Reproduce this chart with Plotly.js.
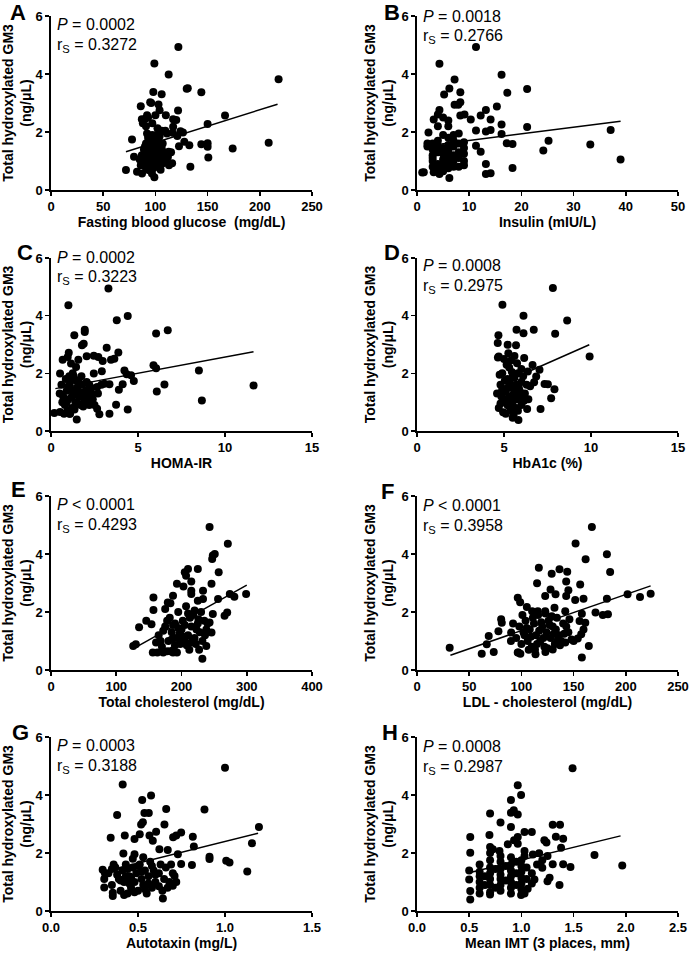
<!DOCTYPE html>
<html><head><meta charset="utf-8">
<script src="https://cdn.plot.ly/plotly-3.0.1.min.js"></script>
<style>html,body{margin:0;padding:0;background:#fff}#chart{width:689px;height:953px}</style>
</head><body><div id="chart"></div>
<script>
// ---- DATA ----
const xTitles = ['Fasting blood glucose  (mg/dL)','Insulin (mIU/L)','HOMA-IR','HbA1c (%)','Total cholesterol (mg/dL)','LDL - cholesterol (mg/dL)','Autotaxin (mg/L)','Mean IMT (3 places, mm)'];
const panelLetters = ['A','B','C','D','E','F','G','H'];
const pTexts = ['= 0.0002','= 0.0018','= 0.0002','= 0.0008','< 0.0001','< 0.0001','= 0.0003','= 0.0008'];
const rTexts = ['0.3272','0.2766','0.3223','0.2975','0.4293','0.3958','0.3188','0.2987'];
const yTitle = 'Total hydroxylated GM3<br>(ng/μL)';

const ptsA = [[71.8,0.69],[77.6,1.74],[122,4.93],[99,4.36],[112.7,3.98],[218,3.82],[131,3.51],[130,3.49],[144,3.37],[98,3.38],[106,3.30],[95,3.03],[96,3.0],[103,2.95],[86,2.89],[121.7,2.74],[166.7,2.57],[92,2.58],[100,2.58],[110,2.58],[104,2.75],[87,2.44],[117,2.44],[120,2.41],[150,2.28],[91,2.2],[117,2.18],[102,2.13],[109.5,2.04],[92,1.95],[124,2.03],[126.4,1.98],[106,2.04],[111,1.95],[121,1.86],[116.5,1.97],[208.5,1.63],[174,1.43],[144,1.58],[150,1.61],[150,1.49],[132.5,1.54],[122.6,1.51],[127.7,1.66],[150.7,1.12],[133.5,0.80],[116,0.92],[109,1.24],[112.7,1.32],[79.5,1.15],[82.4,0.63],[87.2,0.57],[93.5,0.69],[99,0.44],[96.7,0.57],
[88,1.0],[90,1.1],[92,0.9],[94,1.2],[95,1.4],[96,1.6],[97,1.0],[98,1.3],[99,1.5],[100,1.7],[101,1.2],[102,0.8],[103,1.0],[104,1.4],[105,1.1],[106,0.9],[107,1.6],[108,1.3],[89,1.4],[91,1.6],[93,1.8],[95,0.8],[97,1.9],[99,1.1],[100,0.9],[101,1.5],[103,1.7],[94,0.7],[96,1.3],[98,0.75],[87,1.2],[86,0.85],[90,1.5],[92,1.3],[95,1.1],[100,1.35],[102,1.55],[104,1.85],[106,1.45],[108,0.95],[110,1.05],[112,1.15],[97,2.3],[93,2.5],[90,2.45],[88,2.3],[113,0.85],[115,1.3],[85,1.05],[91,0.75],[98,1.75],[105,0.7],[94,1.5],[101,1.9],[107,1.15]];
const fitA = [[71.8,1.32],[217,2.96]];

const ptsB = [[1.3,0.61],[2.2,1.98],[3.2,2.43],[4.3,4.35],[4.3,2.76],[5.2,3.29],[6.2,3.50],[7.2,3.81],[8.3,3.37],[8.3,3.03],[7.9,2.94],[7.2,2.94],[8.3,2.57],[9.1,2.60],[10.3,2.43],[11.3,4.93],[16.2,3.97],[17.3,3.35],[21.1,3.48],[15.3,2.88],[13.2,2.76],[12.2,2.57],[14.1,2.43],[13.2,2.02],[11.3,2.05],[14.1,2.07],[16.2,2.26],[21.1,2.17],[16.2,1.93],[17.2,1.61],[18.3,1.59],[25.2,1.70],[33.2,1.57],[37.1,2.07],[39.0,1.05],[24.2,1.36],[18.3,0.76],[13.2,0.55],[14.1,0.58],[13.2,0.90],[12.2,1.32],[11.3,1.53],[6.2,0.41],[4.3,0.55],[3.2,0.61],
[3,0.8],[3,1.0],[3,1.2],[3,1.4],[3,1.6],[3,1.1],[4,0.7],[4,0.9],[4,1.3],[4,1.5],[4,1.7],[4,2.2],[4,2.6],[5,0.65],[5,0.85],[5,1.05],[5,1.25],[5,1.45],[5,1.9],[5,2.5],[6,0.75],[6,0.95],[6,1.15],[6,1.35],[6,1.55],[6,1.8],[6,2.2],[6,2.4],[7,0.8],[7,1.0],[7,1.2],[7,1.5],[7,1.7],[7,1.9],[8,0.8],[8,1.1],[8,1.3],[8,1.6],[8,1.95],[9,0.85],[9,1.0],[9,1.25],[9,1.45],[9,1.65],[2,1.5],[2,1.6],[1,0.6]];
const fitB = [[1.3,1.51],[39,2.37]];

const ptsC = [[0.19,0.62],[0.52,0.66],[1.0,4.36],[3.3,4.94],[3.78,3.84],[4.41,3.99],[1.34,3.32],[1.94,3.51],[1.94,3.43],[1.88,3.03],[1.78,2.97],[6.04,3.38],[6.71,3.49],[3.2,2.89],[3.87,2.72],[1.02,2.71],[0.67,2.47],[0.96,2.57],[1.57,2.47],[2.05,2.59],[2.46,2.61],[2.72,2.57],[2.97,2.43],[3.45,2.47],[3.64,2.51],[0.52,1.99],[1.44,2.22],[1.15,2.34],[2.46,1.99],[2.92,2.07],[4.22,2.10],[5.89,2.28],[6.04,2.18],[8.5,2.10],[4.35,1.97],[4.6,1.93],[4.76,1.73],[4.12,1.62],[3.07,1.64],[3.36,1.62],[3.9,1.43],[2.65,1.53],[6.52,1.61],[6.08,1.37],[11.64,1.58],[8.67,1.06],[3.74,0.91],[4.41,0.75],[3.36,0.60],[2.78,0.58],[2.65,0.77],[1.48,0.40],[1.06,0.60],
[0.6,1.6],[0.7,1.2],[0.8,0.9],[0.9,1.4],[1.0,1.1],[1.1,1.7],[1.2,0.8],[1.3,1.3],[1.4,1.0],[1.5,1.5],[1.6,1.2],[1.7,0.9],[1.8,1.6],[1.9,1.1],[2.0,1.4],[2.1,1.2],[2.2,0.9],[2.3,1.5],[2.4,1.1],[0.75,0.6],[0.85,1.8],[0.95,0.7],[1.05,1.9],[1.15,1.45],[1.25,2.0],[1.35,0.75],[1.45,1.75],[1.55,0.95],[1.65,1.35],[1.75,1.9],[1.85,0.85],[1.95,1.25],[2.05,1.7],[2.15,1.0],[2.35,1.3],[2.5,0.9],[0.65,1.0],[1.0,1.55],[1.2,1.2],[0.9,1.0],[1.6,1.7],[1.3,1.9],[2.2,1.6],[0.5,1.3],[1.1,0.6],[2.7,1.3],[2.9,1.6]];
const fitC = [[0.25,1.47],[11.64,2.75]];

const ptsD = [[7.81,4.96],[4.91,4.38],[6.12,4.0],[8.63,3.83],[5.72,3.51],[6.71,3.51],[6.12,3.39],[7.94,3.37],[4.68,3.32],[9.92,2.58],[4.64,3.05],[5.21,2.99],[5.69,2.97],[4.7,2.58],[6.16,2.53],[6.64,2.29],[7.04,2.12],[6.37,2.06],[6.85,1.89],[7.33,1.63],[7.52,1.62],[7.9,1.45],[7.71,1.14],[7.1,0.76],[6.33,0.76],[5.83,0.38],[5.5,0.46],[6.5,1.55],[6.73,1.69],
[4.6,1.3],[4.7,0.8],[4.8,1.6],[4.9,2.0],[5.0,1.1],[5.0,2.5],[5.1,0.6],[5.1,1.4],[5.2,1.8],[5.2,0.9],[5.3,1.2],[5.3,2.2],[5.4,0.7],[5.4,1.5],[5.5,1.0],[5.5,1.9],[5.6,1.3],[5.6,2.6],[5.7,0.8],[5.7,1.6],[5.8,1.1],[5.8,2.0],[5.9,1.4],[6.0,0.9],[6.0,1.7],[4.65,2.55],[4.75,1.95],[4.85,1.2],[4.95,0.65],[5.05,1.75],[5.15,2.3],[5.25,1.05],[5.35,1.65],[5.45,2.05],[5.55,0.55],[5.65,1.15],[5.75,2.35],[5.85,1.5],[5.95,1.25],[6.1,1.9],[6.2,1.3],[6.3,1.6],[6.4,1.1],[5.0,1.35],[5.2,1.5],[5.3,0.85],[5.5,1.25],[5.4,2.45],[5.6,1.85],[4.9,1.45],[5.1,1.0],[5.7,1.4],[6.0,2.15],[5.25,2.7],[5.8,0.7],[4.8,0.95],[6.15,1.05]];
const fitD = [[4.6,1.58],[9.9,2.99]];

const ptsE = [[243,4.93],[271,4.35],[248,3.95],[251,4.0],[247,3.83],[257,3.37],[210,3.48],[225,3.48],[205,3.37],[207,3.25],[246,2.97],[193,2.97],[215,3.05],[203,2.88],[233,2.73],[215,2.73],[274,2.62],[299,2.62],[281,2.53],[256,2.45],[233,2.45],[215,2.62],[187,2.56],[157,2.50],[157,2.07],[179,2.33],[225,2.39],[248,1.93],[270,1.98],[266,1.87],[146,1.70],[154,1.58],[135,1.47],[126,0.83],[130,0.89],[161,0.95],[156,0.60],[238,0.83],[232,0.39],[246,1.29],[243,1.64],[187,0.60],
[165,1.2],[170,0.8],[175,1.5],[180,1.0],[182,1.8],[185,1.3],[188,0.7],[190,1.6],[192,1.1],[195,2.0],[198,0.9],[200,1.4],[202,1.7],[205,1.0],[207,2.2],[210,1.2],[212,0.7],[215,1.5],[218,1.9],[220,1.1],[222,0.9],[225,1.6],[228,1.3],[230,2.0],[232,1.0],[235,1.7],[238,1.4],[168,1.0],[172,1.35],[178,0.65],[183,2.3],[187,1.55],[193,0.6],[197,1.25],[203,1.15],[208,0.85],[213,1.8],[217,1.05],[223,1.4],[227,0.7],[195,1.45],[185,1.05],[205,1.55],[190,0.85],[200,1.1],[178,1.7],[210,1.95],[175,2.1],[220,2.05],[240,1.6],[163,0.6],[172,0.6],[183,0.65],[215,0.95],[226,1.75],[236,1.2]];
const fitE = [[129,0.77],[300,2.93]];

const ptsF = [[31.3,0.77],[62,0.56],[66.8,0.89],[68.7,1.17],[73.5,0.62],[80.6,1.75],[81.2,1.63],[78,1.34],[90.2,1.29],[167.5,4.93],[151.9,4.36],[161.5,3.82],[181.9,3.99],[185,3.38],[116.7,3.53],[129,3.32],[136.5,3.47],[143.9,3.39],[115,2.99],[127.9,2.78],[132.7,2.61],[142.9,3.05],[145,2.75],[156.3,2.95],[142.9,2.55],[159.5,2.46],[151.5,2.41],[122.8,2.55],[96.5,2.49],[98.8,2.34],[105.2,2.17],[110.3,2.03],[131.7,2.15],[122.8,2.03],[142,2.03],[171,1.98],[178,1.90],[182.9,1.92],[181.9,2.46],[201.7,2.61],[213.6,2.52],[223.8,2.63],[157.9,1.94],[155.7,1.69],[161.2,1.63],[159.5,1.40],[157.3,1.23],[154,1.09],[164.6,0.83],[157.9,0.43],[96.5,0.60],[99,0.56],[113.5,0.54],[123,0.62],[130,0.71],[115.7,2.03],
[95,1.1],[98,1.5],[100,0.9],[102,1.3],[104,1.7],[106,1.0],[108,1.4],[110,0.8],[112,1.6],[114,1.2],[116,1.9],[118,1.0],[120,1.5],[122,0.8],[124,1.3],[126,1.7],[128,1.1],[130,1.5],[132,0.9],[134,1.8],[136,1.2],[138,1.0],[140,1.6],[142,0.95],[145,1.3],[148,1.05],[97,0.6],[101,1.9],[105,1.45],[109,1.15],[113,0.7],[117,1.35],[121,1.1],[125,0.75],[129,1.85],[133,1.4],[137,0.85],[141,1.25],[146,1.75],[103,1.2],[111,1.8],[119,1.65],[127,1.55],[135,1.05],[143,1.5],[115,0.9],[107,0.7],[123,1.95],[131,1.25],[150,1.0],[90,1.0],[92,1.6]];
const fitF = [[32,0.51],[223.8,2.90]];

const ptsG = [[1.0,4.94],[0.412,4.36],[0.575,3.98],[0.524,3.83],[0.662,3.52],[0.882,3.50],[0.38,3.31],[0.537,3.38],[0.562,3.38],[0.528,3.06],[0.518,2.98],[0.652,2.98],[1.195,2.90],[0.343,2.53],[0.424,2.60],[0.51,2.65],[0.566,2.60],[0.604,2.73],[0.702,2.54],[0.72,2.60],[0.748,2.71],[0.815,2.56],[0.48,2.48],[0.585,2.42],[1.155,2.34],[0.821,2.22],[0.623,2.13],[0.671,2.10],[0.416,1.98],[0.48,1.96],[0.729,1.96],[0.911,1.87],[0.911,1.79],[1.007,1.73],[1.026,1.67],[1.128,1.36],[0.81,1.59],[0.748,1.62],[0.297,1.42],[0.306,1.10],[0.306,0.81],[0.355,0.63],[0.355,0.52],[0.643,0.43],[0.71,1.21],[0.70,0.87],
[0.33,1.3],[0.35,0.9],[0.37,1.5],[0.39,1.1],[0.40,0.7],[0.41,1.4],[0.42,1.0],[0.43,1.6],[0.44,0.6],[0.45,1.2],[0.46,0.8],[0.47,1.5],[0.48,1.0],[0.49,1.3],[0.50,0.7],[0.51,1.6],[0.52,1.1],[0.53,0.9],[0.54,1.4],[0.55,0.6],[0.56,1.2],[0.57,1.7],[0.58,0.8],[0.59,1.4],[0.60,1.0],[0.62,1.3],[0.64,0.7],[0.66,1.5],[0.68,1.0],[0.70,1.3],[0.36,1.6],[0.38,1.25],[0.40,1.05],[0.42,0.55],[0.44,1.45],[0.46,1.15],[0.48,0.65],[0.50,1.55],[0.52,1.35],[0.54,0.75],[0.56,0.95],[0.58,1.55],[0.60,1.25],[0.62,0.85],[0.65,1.1],[0.67,0.8],[0.69,1.6],[0.47,1.8],[0.53,1.85],[0.43,1.2],[0.31,1.3],[0.35,1.45],[0.45,0.95],[0.63,1.6],[0.72,1.0]];
const fitG = [[0.307,1.36],[1.19,2.68]];

const ptsH = [[1.49,4.92],[0.965,4.34],[0.997,4.0],[0.90,3.83],[0.927,3.47],[0.965,3.33],[0.90,3.39],[0.70,3.36],[0.80,3.05],[1.30,2.97],[1.37,2.97],[0.90,2.90],[0.694,2.62],[0.51,2.55],[1.03,2.72],[1.10,2.72],[1.33,2.56],[1.40,2.49],[0.965,2.55],[0.93,2.44],[1.22,2.44],[1.24,2.36],[0.965,2.32],[0.87,2.30],[0.70,2.21],[0.726,2.13],[0.79,2.07],[1.38,2.18],[1.70,1.93],[0.51,2.01],[1.03,2.07],[1.11,1.95],[1.17,1.99],[1.25,1.90],[1.2,1.75],[1.30,1.61],[1.40,1.61],[1.47,1.52],[1.966,1.57],[1.03,1.90],[0.50,1.40],[0.50,1.09],[0.51,0.69],[0.51,0.40],[0.70,0.57],[0.90,0.60],[0.997,0.55],[1.03,0.60],[1.06,0.77],[1.365,0.90],[1.25,1.03],[1.125,1.09],[1.27,1.15],[1.2,1.49],
[0.6,0.6],[0.6,0.8],[0.6,1.0],[0.6,1.2],[0.6,1.35],[0.6,1.6],[0.7,0.65],[0.7,0.9],[0.7,1.1],[0.7,1.3],[0.7,1.5],[0.7,1.75],[0.7,2.0],[0.8,0.7],[0.8,0.9],[0.8,1.1],[0.8,1.25],[0.8,1.45],[0.8,1.7],[0.8,1.9],[0.9,0.8],[0.9,1.0],[0.9,1.2],[0.9,1.4],[0.9,1.6],[0.9,1.85],[1.0,0.75],[1.0,0.95],[1.0,1.15],[1.0,1.35],[1.0,1.55],[1.0,1.75],[0.65,0.9],[0.65,1.2],[0.75,0.8],[0.75,1.45],[0.85,1.05],[0.85,1.55],[0.95,0.9],[0.95,1.3],[0.95,1.7],[1.05,1.1],[1.05,1.5],[1.1,1.3],[1.1,0.95],[1.15,1.6]];
const fitH = [[0.50,1.32],[1.95,2.59]];

const allPts = [ptsA,ptsB,ptsC,ptsD,ptsE,ptsF,ptsG,ptsH];
const allFits = [fitA,fitB,fitC,fitD,fitE,fitF,fitG,fitH];
const xRanges = [[0,250],[0,50],[0,15],[0,15],[0,400],[0,250],[0,1.5],[0,2.5]];
const xDticks = [50,10,5,5,100,50,0.5,0.5];

// ---- LAYOUT ----
const W = 689, H = 953;
const colPx = [[51,312],[417,678]];
const rowPx = [[16,190],[258,431],[496,670],[737,911]];
const textOffsets = [[8,29],[0,20],[0,20],[8,29],[8,29],[9,30],[8,29],[9,30]];
const letterPos = [[18,13],[392,13],[25,252],[392,252],[18,489],[387,491],[20,732],[390,732]];
const FONT = 'Arial, "Liberation Sans", sans-serif';

const traces = [];
const layout = {
  width: W, height: H, margin: {l:0,r:0,t:0,b:0},
  paper_bgcolor: '#fff', plot_bgcolor: '#fff', showlegend: false,
  font: {family: FONT, color: '#000', size: 13}, annotations: []
};

for (let i = 0; i < 8; i++) {
  const n = i + 1;
  const xa = 'x' + (n === 1 ? '' : n), ya = 'y' + (n === 1 ? '' : n);
  const col = i % 2, row = Math.floor(i / 2);
  traces.push({
    type: 'scatter', mode: 'markers', xaxis: xa, yaxis: ya,
    x: allPts[i].map(p => p[0]), y: allPts[i].map(p => p[1]),
    marker: {color: '#000', size: 8}, cliponaxis: false
  });
  traces.push({
    type: 'scatter', mode: 'lines', xaxis: xa, yaxis: ya,
    x: allFits[i].map(p => p[0]), y: allFits[i].map(p => p[1]),
    line: {color: '#000', width: 1.5}
  });
  const axBase = {
    showline: true, linecolor: '#000', linewidth: 1.6, ticks: 'outside',
    ticklen: 4, tickwidth: 1.6, tickcolor: '#000', showgrid: false, zeroline: false,
    tickfont: {family: FONT, size: 13, weight: 'bold', color: '#000'}, fixedrange: true
  };
  layout['xaxis' + (n === 1 ? '' : n)] = Object.assign({}, axBase, {
    domain: [colPx[col][0] / W, colPx[col][1] / W], anchor: ya,
    range: xRanges[i], dtick: xDticks[i], tick0: 0,
    tickformat: xDticks[i] < 1 ? '.1f' : 'd',
    title: {text: xTitles[i], font: {family: FONT, size: 14, weight: 'bold', color: '#000'}, standoff: 4}
  });
  layout['yaxis' + (n === 1 ? '' : n)] = Object.assign({}, axBase, {
    domain: [1 - rowPx[row][1] / H, 1 - rowPx[row][0] / H], anchor: xa,
    range: [0, 6], dtick: 2, tick0: 0,
    title: {text: yTitle, font: {family: FONT, size: 14, weight: 'bold', color: '#000'}, standoff: 4}
  });
  const hgt = rowPx[row][1] - rowPx[row][0];
  layout.annotations.push({
    xref: xa + ' domain', yref: ya + ' domain', x: 0.015, y: 1 - textOffsets[i][0] / hgt,
    xanchor: 'left', yanchor: 'middle', showarrow: false,
    text: '<i>P</i> ' + pTexts[i], font: {family: FONT, size: 16, color: '#000'}
  });
  layout.annotations.push({
    xref: xa + ' domain', yref: ya + ' domain', x: 0.015, y: 1 - textOffsets[i][1] / hgt,
    xanchor: 'left', yanchor: 'middle', showarrow: false,
    text: 'r<sub>S</sub> = ' + rTexts[i], font: {family: FONT, size: 16, color: '#000'}
  });
  layout.annotations.push({
    xref: 'paper', yref: 'paper', x: letterPos[i][0] / W, y: 1 - letterPos[i][1] / H,
    xanchor: 'center', yanchor: 'middle', showarrow: false,
    text: panelLetters[i], font: {family: FONT, size: 22, weight: 'bold', color: '#000'}
  });
}

Plotly.newPlot('chart', traces, layout, {staticPlot: true, displayModeBar: false});
</script></body></html>
